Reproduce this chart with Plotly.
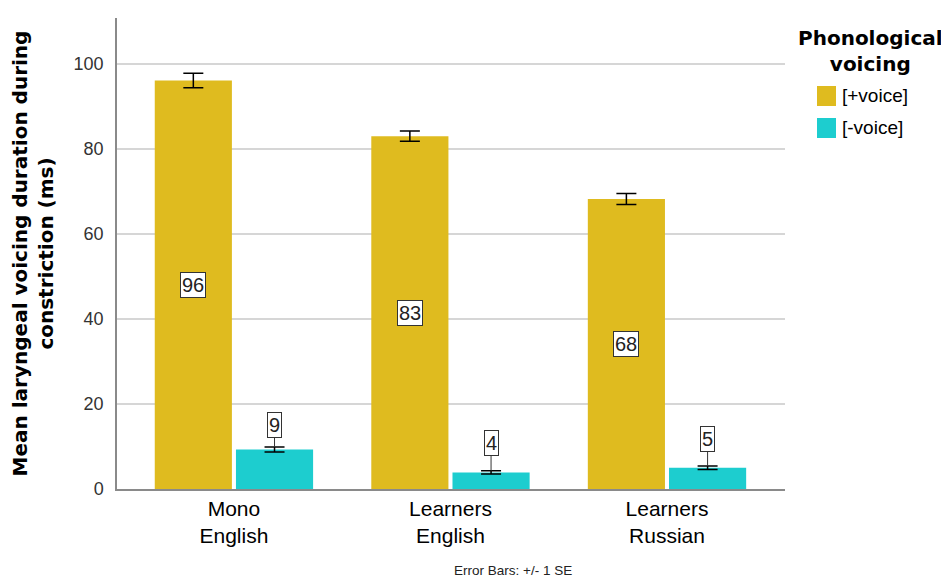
import plotly.graph_objects as go

# groups on the x axis
groups = ["Mono<br>English", "Learners<br>English", "Learners<br>Russian"]

# mean voicing duration (ms) and standard errors
plus_voice = [96.1, 83.0, 68.2]
plus_voice_se = [1.7, 1.2, 1.3]
minus_voice = [9.3, 3.9, 5.0]
minus_voice_se = [0.6, 0.4, 0.4]

plus_labels = ["96", "83", "68"]
minus_labels = ["9", "4", "5"]

GOLD = "#DFBB1F"
CYAN = "#1DCDCF"
FONT = "Liberation Sans, Arial, sans-serif"
WIDE = "DejaVu Sans, Liberation Sans, sans-serif"

# the page puts the figure 8px in from the top-left corner
W, H = 941, 570
L, T, R, B = 109, 10, 164, 89
PW, PH = W - L - R, H - T - B


def px(x):
    return (x - 8 - L) / PW


def py(y):
    return 1 - (y - 8 - T) / PH


x_idx = list(range(len(groups)))

fig = go.Figure()

fig.add_trace(go.Bar(
    name="[+voice]",
    x=x_idx,
    y=plus_voice,
    marker=dict(color=GOLD, line=dict(width=0)),
    error_y=dict(type="data", array=plus_voice_se, color="black", thickness=1.5, width=10),
))
fig.add_trace(go.Bar(
    name="[-voice]",
    x=x_idx,
    y=minus_voice,
    marker=dict(color=CYAN, line=dict(width=0)),
    error_y=dict(type="data", array=minus_voice_se, color="black", thickness=1.5, width=10),
))

annotations = []
label_font = dict(family=FONT, size=20, color="#222")

# value boxes in the middle of the [+voice] bars
for i, v in enumerate(plus_voice):
    annotations.append(dict(
        x=i - 0.1875, y=v / 2, xref="x", yref="y",
        text=plus_labels[i], showarrow=False,
        font=label_font, bgcolor="white",
        bordercolor="#333", borderwidth=1, borderpad=1,
    ))

# value boxes above the [-voice] bars, with a leader line
offsets = [-22, -28, -27]
for i, v in enumerate(minus_voice):
    annotations.append(dict(
        x=i + 0.1875, y=v + minus_voice_se[i], xref="x", yref="y",
        text=minus_labels[i], showarrow=True, arrowhead=0, arrowwidth=1,
        arrowcolor="#333", ax=0, ay=offsets[i], standoff=0,
        font=label_font, bgcolor="white",
        bordercolor="#333", borderwidth=1, borderpad=1,
    ))

# custom legend
annotations.append(dict(
    x=px(870), y=py(24), xref="paper", yref="paper",
    text="<b>Phonological<br>voicing</b>", showarrow=False,
    font=dict(family=WIDE, size=20, color="black"),
    xanchor="center", yanchor="top", align="center",
))
shapes = []
legend_items = [("[+voice]", GOLD, 86), ("[-voice]", CYAN, 118)]
for name, col, ytop in legend_items:
    shapes.append(dict(
        type="rect", xref="paper", yref="paper",
        x0=px(817), x1=px(836), y0=py(ytop + 20), y1=py(ytop),
        fillcolor=col, line=dict(width=0),
    ))
    annotations.append(dict(
        x=px(840), y=py(ytop + 10), xref="paper", yref="paper",
        text=name, showarrow=False, xanchor="left", yanchor="middle",
        font=dict(family=FONT, size=19, color="black"),
    ))

annotations.append(dict(
    x=px(513), y=py(570), xref="paper", yref="paper",
    text="Error Bars: +/- 1 SE", showarrow=False,
    font=dict(family=FONT, size=13.5, color="#222"),
    xanchor="center", yanchor="middle",
))

fig.update_layout(
    width=W, height=H,
    margin=dict(l=L, r=R, t=T, b=B),
    plot_bgcolor="white", paper_bgcolor="white",
    barmode="group", bargap=0.25, bargroupgap=0.05,
    showlegend=False,
    font=dict(family=FONT),
    annotations=annotations,
    shapes=shapes,
    xaxis=dict(
        tickvals=x_idx, ticktext=groups,
        range=[-0.54, 2.545],
        showgrid=False, zeroline=False,
        showline=True, linecolor="#8a8a8a", linewidth=1.5,
        ticks="", tickfont=dict(family=FONT, size=21, color="black"),
    ),
    yaxis=dict(
        range=[0, 110.8],
        tickvals=[0, 20, 40, 60, 80, 100],
        showgrid=True, gridcolor="#D6D6D6", gridwidth=1.5,
        zeroline=False,
        showline=True, linecolor="#8a8a8a", linewidth=1.5,
        ticks="", ticklabelstandoff=8,
        tickfont=dict(family=FONT, size=18, color="#333"),
        title=dict(
            text="<b>Mean laryngeal voicing duration during<br>constriction (ms)</b>",
            font=dict(family=WIDE, size=20, color="black"),
            standoff=16,
        ),
    ),
)

fig.write_html("out.html")
